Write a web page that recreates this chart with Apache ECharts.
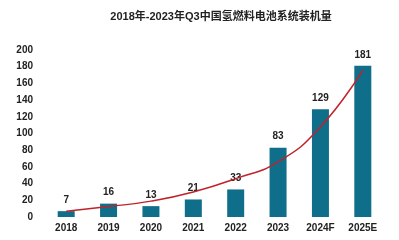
<!DOCTYPE html>
<html>
<head>
<meta charset="utf-8">
<script src="https://cdn.jsdelivr.net/npm/echarts@6/dist/echarts.min.js"></script>
<style>
  html, body { margin: 0; padding: 0; background: #fff; }
  #chart { width: 399px; height: 240px; }
</style>
</head>
<body>
<div id="chart"></div>
<script>
// 年份
const years = ['2018', '2019', '2020', '2021', '2022', '2023', '2024F', '2025E']
// 装机量 (MW)
const installed = [7, 16, 13, 21, 33, 83, 129, 181]
// 趋势线
const trend = [7, 12.5, 19, 30, 46, 66, 108, 176]

const chart = echarts.init(document.getElementById('chart'))
chart.setOption({
  animation: false,
  title: {
    text: '2018年-2023年Q3中国氢燃料电池系统装机量',
    left: 216,
    textAlign: 'center',
    top: 6,
    textStyle: {
      fontFamily: 'Liberation Sans, Noto Sans CJK SC, sans-serif',
      fontSize: 11,
      fontWeight: 'bold',
      color: '#222',
    },
  },
  grid: {
    left: 45,
    right: 15,
    top: 50,
    bottom: 23,
  },
  xAxis: {
    type: 'category',
    data: years,
    axisLine: { show: false },
    axisTick: { show: false },
    axisLabel: {
      color: '#222',
      fontSize: 10,
      fontWeight: 'bold',
      fontFamily: 'Liberation Sans, sans-serif',
      margin: 6,
    },
  },
  yAxis: {
    type: 'value',
    min: 0,
    max: 200,
    interval: 20,
    splitLine: { show: false },
    axisLine: { show: false },
    axisTick: { show: false },
    axisLabel: {
      color: '#222',
      fontSize: 10,
      fontWeight: 'bold',
      fontFamily: 'Liberation Sans, sans-serif',
      margin: 12,
    },
  },
  series: [
    {
      type: 'bar',
      data: installed,
      barWidth: 17,
      itemStyle: { color: '#0f6e8a' },
      label: {
        show: true,
        position: 'top',
        distance: 6,
        color: '#222',
        fontSize: 10,
        fontWeight: 'bold',
        fontFamily: 'Liberation Sans, sans-serif',
      },
    },
    {
      type: 'line',
      data: trend,
      smooth: true,
      symbol: 'none',
      lineStyle: { color: '#c0232b', width: 1.5 },
      z: 5,
    },
  ],
})
</script>
</body>
</html>
